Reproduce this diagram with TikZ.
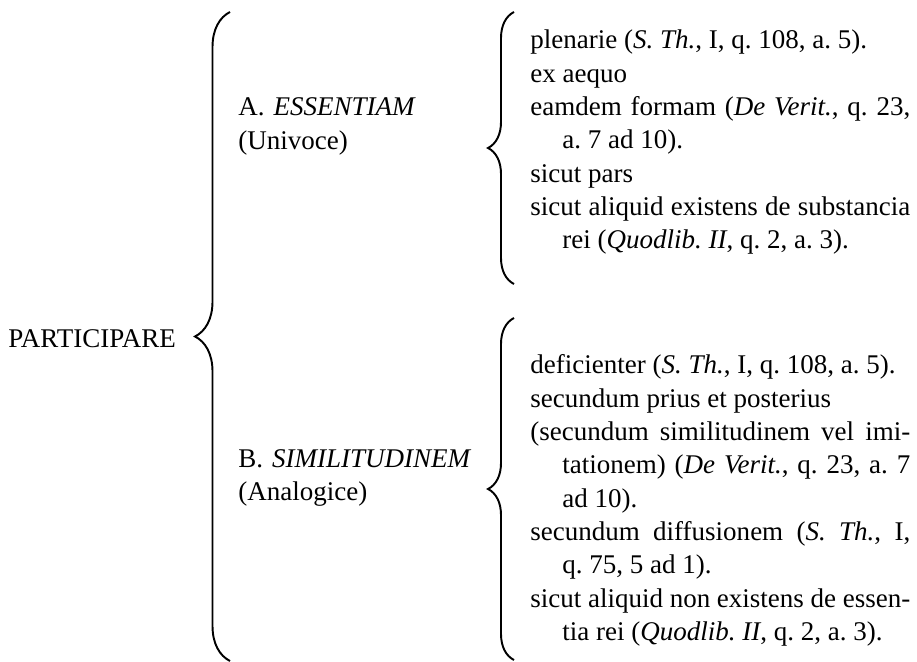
\documentclass[tikz,border=0pt]{standalone}
\usepackage{fontspec}
\setmainfont{Liberation Serif}
\usetikzlibrary{decorations.pathreplacing}
\frenchspacing
\tikzset{
    headnode/.style={inner sep=0pt, anchor=base west, font=\fontsize{15.37}{18.95}\selectfont},
    branchnode/.style={headnode, text width=5cm, align=left},
    listnode/.style={headnode, text width=7.6cm, align=justify},
    bigbrace/.style={decorate, decoration={brace, amplitude=0.7cm}, line width=1.1pt},
    smallbrace/.style={decorate, decoration={brace, amplitude=0.52cm}, line width=1.1pt}
}
\newcommand{\refline}[1]{\noindent\hangindent=0.64cm\hangafter=1 #1\par}

\begin{document}
\begin{tikzpicture}[x=0.02cm, y=-0.02cm]
\useasboundingbox (0,0) rectangle (917,662);
% left head and the two branches
\node[headnode] (part) at (8,348) {PARTICIPARE};
\node[branchnode] (ess) at (238,116) {A. \textit{ESSENTIAM}\\(Univoce)};
\node[branchnode] (sim) at (238,467) {B. \textit{SIMILITUDINEM}\\(Analogice)};
% references
\node[listnode] (esslist) at (530,49) {%
    \refline{plenarie (\textit{S. Th.}, I, q. 108, a. 5).}
    \refline{ex aequo}
    \refline{eamdem formam (\textit{De Verit.}, q. 23,\linebreak a. 7 ad 10).}
    \refline{sicut pars}
    \refline{sicut aliquid existens de substancia\linebreak rei (\textit{Quodlib. II}, q. 2, a. 3).}};
\node[listnode] (simlist) at (530,374) {%
    \refline{deficienter (\textit{S. Th.}, I, q. 108, a. 5).}
    \refline{secundum prius et posterius}
    \refline{(secundum similitudinem vel imi-\linebreak tationem) (\textit{De Verit.}, q. 23, a. 7\linebreak ad 10).}
    \refline{secundum diffusionem (\textit{S. Th.}, I,\linebreak q. 75, 5 ad 1).}
    \refline{sicut aliquid non existens de essen-\linebreak tia rei (\textit{Quodlib. II}, q. 2, a. 3).}};
% braces
\coordinate (part-top) at (230,12);
\coordinate (part-bot) at (230,661);
\coordinate (ess-top) at (514,12);
\coordinate (ess-bot) at (514,284);
\coordinate (sim-top) at (514,318);
\coordinate (sim-bot) at (514,660);
\draw[bigbrace] (part-bot) -- (part-top);
\draw[smallbrace] (ess-bot) -- (ess-top);
\draw[smallbrace] (sim-bot) -- (sim-top);
\end{tikzpicture}
\end{document}
